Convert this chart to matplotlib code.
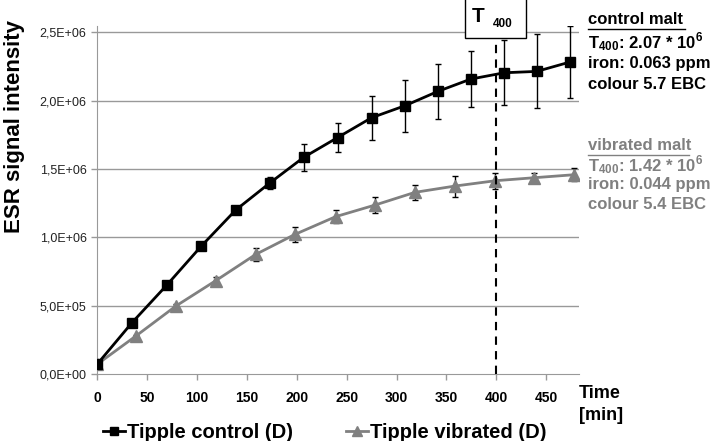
import matplotlib
matplotlib.use("Agg")
import matplotlib.pyplot as plt
from matplotlib.lines import Line2D

# Data
control_time = [0, 35, 70, 104.5, 139, 173, 207, 241, 275, 308.5, 341.5, 374.5, 408, 440.5, 473.5]
control_esr = [0.07e6, 0.375e6, 0.651e6, 0.936e6, 1.20e6, 1.397e6, 1.585e6, 1.73e6,
               1.875e6, 1.963e6, 2.068e6, 2.158e6, 2.204e6, 2.214e6, 2.282e6]
control_err = [0.005e6, 0.005e6, 0.005e6, 0.005e6, 0.01e6, 0.043e6, 0.10e6, 0.108e6,
               0.16e6, 0.19e6, 0.20e6, 0.207e6, 0.238e6, 0.27e6, 0.265e6]

vibrated_time = [0, 39, 79, 119, 159, 198.5, 239, 278.5, 318.5, 358.5, 399, 438, 478]
vibrated_esr = [0.07e6, 0.278e6, 0.497e6, 0.683e6, 0.875e6, 1.022e6, 1.151e6, 1.236e6,
                1.329e6, 1.375e6, 1.414e6, 1.436e6, 1.458e6]
vibrated_err = [0.005e6, 0.005e6, 0.015e6, 0.03e6, 0.049e6, 0.055e6, 0.05e6, 0.056e6,
                0.057e6, 0.077e6, 0.06e6, 0.034e6, 0.046e6]

x_ticks = [0, 50, 100, 150, 200, 250, 300, 350, 400, 450]
y_ticks = [0, 0.5e6, 1.0e6, 1.5e6, 2.0e6, 2.5e6]
y_ticklabels = ["0,0E+00", "5,0E+05", "1,0E+06", "1,5E+06", "2,0E+06", "2,5E+06"]

control_info = ["$\\mathbf{T_{400}}$: 2.07 * 10$^{\\mathbf{6}}$", "iron: 0.063 ppm", "colour 5.7 EBC"]
vibrated_info = ["$\\mathbf{T_{400}}$: 1.42 * 10$^{\\mathbf{6}}$", "iron: 0.044 ppm", "colour 5.4 EBC"]

plt.rcParams["font.family"] = ["Liberation Sans", "DejaVu Sans"]
plt.rcParams["mathtext.fontset"] = "custom"
plt.rcParams["mathtext.rm"] = "Liberation Sans"
plt.rcParams["mathtext.bf"] = "Liberation Sans:bold"

fig = plt.figure(figsize=(7.24, 4.41), dpi=100)
ax = fig.add_axes([0.134, 0.152, 0.666, 0.789])

grey = "#808080"
ax.errorbar(control_time, control_esr, yerr=control_err, color="black", lw=2,
            marker="s", ms=7, ecolor="black", elinewidth=1, capsize=2.5, capthick=1,
            zorder=3)
ax.errorbar(vibrated_time, vibrated_esr, yerr=vibrated_err, color=grey, lw=2,
            marker="^", ms=8, ecolor="black", elinewidth=1, capsize=2.5, capthick=1,
            zorder=2)

ax.set_xlim(0, 483)
ax.set_ylim(0, 2.546e6)
ax.set_yticks(y_ticks)
ax.set_yticklabels(y_ticklabels, fontsize=9, color="#222222")
ax.set_xticks(x_ticks)
ax.set_xticklabels([str(t) for t in x_ticks], fontsize=10, fontweight="bold")
ax.tick_params(axis="both", color="#999999", length=4, width=1)
ax.tick_params(axis="x", pad=8)
for y in y_ticks[1:]:
    ax.axhline(y, color="#999999", lw=1, zorder=0)
for side in ["top", "right"]:
    ax.spines[side].set_visible(False)
for side in ["left", "bottom"]:
    ax.spines[side].set_color("#999999")

ax.set_ylabel("ESR signal intensity", fontsize=16, fontweight="bold")
ax.yaxis.set_label_coords(-0.15, 0.71)
ax.text(1.0, -0.055, "Time", transform=ax.transAxes, fontsize=13, fontweight="bold",
        va="center", ha="left")
ax.text(1.0, -0.118, "[min]", transform=ax.transAxes, fontsize=13, fontweight="bold",
        va="center", ha="left")

# T400 marker
ax.axvline(400, ymin=0, ymax=1, color="black", lw=1.5, ls=(0, (4, 3)), zorder=4)
fig.patches.append(plt.Rectangle((0.642, 0.914), 0.084, 0.1, transform=fig.transFigure,
                                 facecolor="white", edgecolor="black", lw=1, zorder=5))
fig.text(0.661, 0.962, "T", fontsize=15, fontweight="bold", ha="center", va="center",
         zorder=6)
fig.text(0.694, 0.946, "400", fontsize=8.5, fontweight="bold", ha="center", va="center",
         zorder=6)

# annotations on the right
fig.text(0.812, 0.955, "control malt", fontsize=12, fontweight="bold", color="black",
         va="center")
fig.add_artist(plt.Line2D([0.812, 0.946], [0.934, 0.934], color="black", lw=1))
for i, line in enumerate(control_info):
    fig.text(0.812, 0.903 - i * 0.047, line, fontsize=12, fontweight="bold", color="black",
             va="center")
fig.text(0.812, 0.669, "vibrated malt", fontsize=12, fontweight="bold", color=grey,
         va="center")
fig.add_artist(plt.Line2D([0.812, 0.952], [0.648, 0.648], color=grey, lw=1))
for i, line in enumerate(vibrated_info):
    fig.text(0.812, 0.625 - i * 0.044, line, fontsize=12, fontweight="bold", color=grey,
             va="center")

handles = [Line2D([], [], color="black", lw=2, marker="s", ms=6),
           Line2D([], [], color=grey, lw=2, marker="^", ms=7)]
ax.legend(handles, ["Tipple control (D)", "Tipple vibrated (D)"],
          loc="center left", bbox_to_anchor=(-0.005, -0.167), ncol=2, frameon=False,
          handlelength=1.1, handletextpad=0.1, columnspacing=2.65, borderaxespad=0,
          prop={"weight": "bold", "size": 14.5})

fig.savefig("out.png", dpi=100)
